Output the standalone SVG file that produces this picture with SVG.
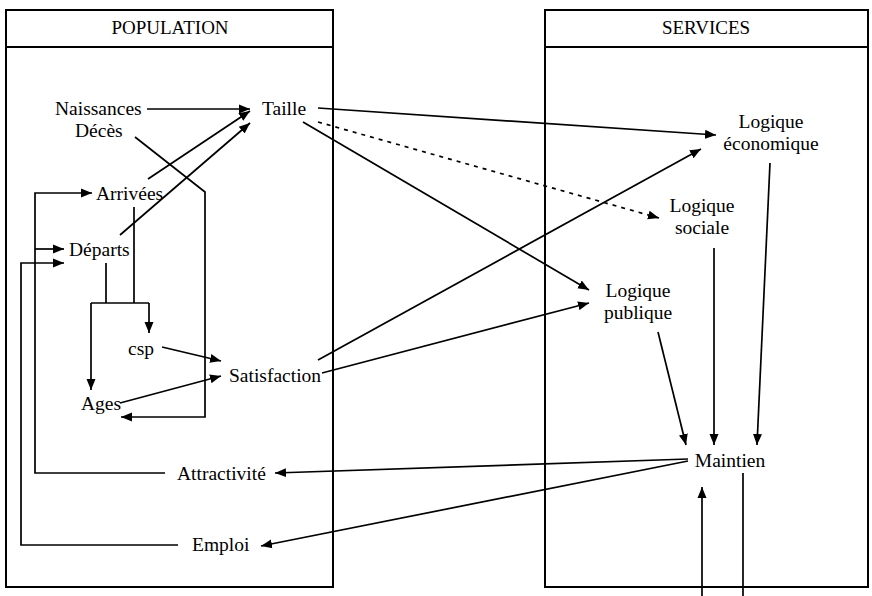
<svg xmlns="http://www.w3.org/2000/svg" width="872" height="596" viewBox="0 0 872 596" font-family="'Liberation Serif', 'Times New Roman', 'DejaVu Serif', serif">
<style>
text{font-family:'Liberation Serif','Times New Roman','DejaVu Serif',serif;font-size:19.5px;fill:#000}
.h{font-size:19px}
.box{fill:none;stroke:#000;stroke-width:2}
.c line,.c polyline{fill:none;stroke:#000;stroke-width:1.7}
.a{marker-end:url(#ah)}
.d{stroke-dasharray:4 5;stroke-width:2.2}
</style>
<defs>
<marker id="ah" markerUnits="userSpaceOnUse" markerWidth="12" markerHeight="10" refX="11" refY="5" orient="auto">
<path d="M0,0.5 L11,5 L0,9.5 z" fill="#000"/>
</marker>
</defs>
<rect width="872" height="596" fill="#fff"/>
<g id="population">
<rect class="box" x="6" y="10" width="327" height="577"/>
<line class="box" x1="6" y1="47" x2="333" y2="47"/>
<text class="h" x="170" y="34" text-anchor="middle">POPULATION</text>
</g>
<g id="services">
<rect class="box" x="545" y="10" width="323" height="577"/>
<line class="box" x1="545" y1="47" x2="868" y2="47"/>
<text class="h" x="706" y="34" text-anchor="middle">SERVICES</text>
</g>
<g id="naissances"><text x="55" y="115">Naissances</text></g>
<g id="deces"><text x="75" y="137">Décès</text></g>
<g id="taille"><text x="262" y="115">Taille</text></g>
<g id="arrivees"><text x="96" y="200">Arrivées</text></g>
<g id="departs"><text x="69" y="256">Départs</text></g>
<g id="csp"><text x="128" y="355">csp</text></g>
<g id="ages"><text x="81" y="410">Ages</text></g>
<g id="satisfaction"><text x="229" y="382">Satisfaction</text></g>
<g id="attractivite"><text x="177" y="480">Attractivité</text></g>
<g id="emploi"><text x="192" y="551">Emploi</text></g>
<g id="logique-economique"><text x="771" y="128" text-anchor="middle">Logique</text><text x="771" y="150" text-anchor="middle">économique</text></g>
<g id="logique-sociale"><text x="702" y="212" text-anchor="middle">Logique</text><text x="702" y="234" text-anchor="middle">sociale</text></g>
<g id="logique-publique"><text x="638" y="297" text-anchor="middle">Logique</text><text x="638" y="319" text-anchor="middle">publique</text></g>
<g id="maintien"><text x="730" y="467" text-anchor="middle">Maintien</text></g>
<g class="c" id="connectors">
<line class="a" x1="147" y1="109" x2="250" y2="109"/>
<line class="a" x1="148" y1="179" x2="250" y2="111"/>
<line class="a" x1="120" y1="235" x2="250" y2="123"/>
<polyline class="a" points="135,137 205,192 205,417 121,417"/>
<polyline points="134,207 134,303"/>
<polyline points="106,263 106,303"/>
<polyline points="91,303 149,303"/>
<line class="a" x1="149" y1="303" x2="149" y2="333"/>
<line class="a" x1="91" y1="303" x2="91" y2="390"/>
<polyline class="a" points="165,473 35,473 35,193 92,193"/>
<line class="a" x1="35" y1="249" x2="64" y2="249"/>
<polyline class="a" points="178,545 21,545 21,263 64,263"/>
<line class="a" x1="162" y1="347" x2="221" y2="361"/>
<line class="a" x1="120" y1="403" x2="221" y2="376"/>
<line class="a" x1="318" y1="108" x2="716" y2="135"/>
<line class="a d" x1="318" y1="122" x2="659" y2="218"/>
<line class="a" x1="303" y1="122" x2="589" y2="290"/>
<line class="a" x1="318" y1="360" x2="701" y2="149"/>
<line class="a" x1="322" y1="373" x2="589" y2="303"/>
<line class="a" x1="658" y1="332" x2="686" y2="445"/>
<line class="a" x1="714" y1="248" x2="714" y2="445"/>
<line class="a" x1="770" y1="163" x2="757" y2="445"/>
<line class="a" x1="688" y1="459" x2="275" y2="473"/>
<line class="a" x1="688" y1="461" x2="261" y2="546"/>
<line class="a" x1="702" y1="596" x2="702" y2="487"/>
<line x1="743" y1="473" x2="743" y2="596"/>
</g>
</svg>
